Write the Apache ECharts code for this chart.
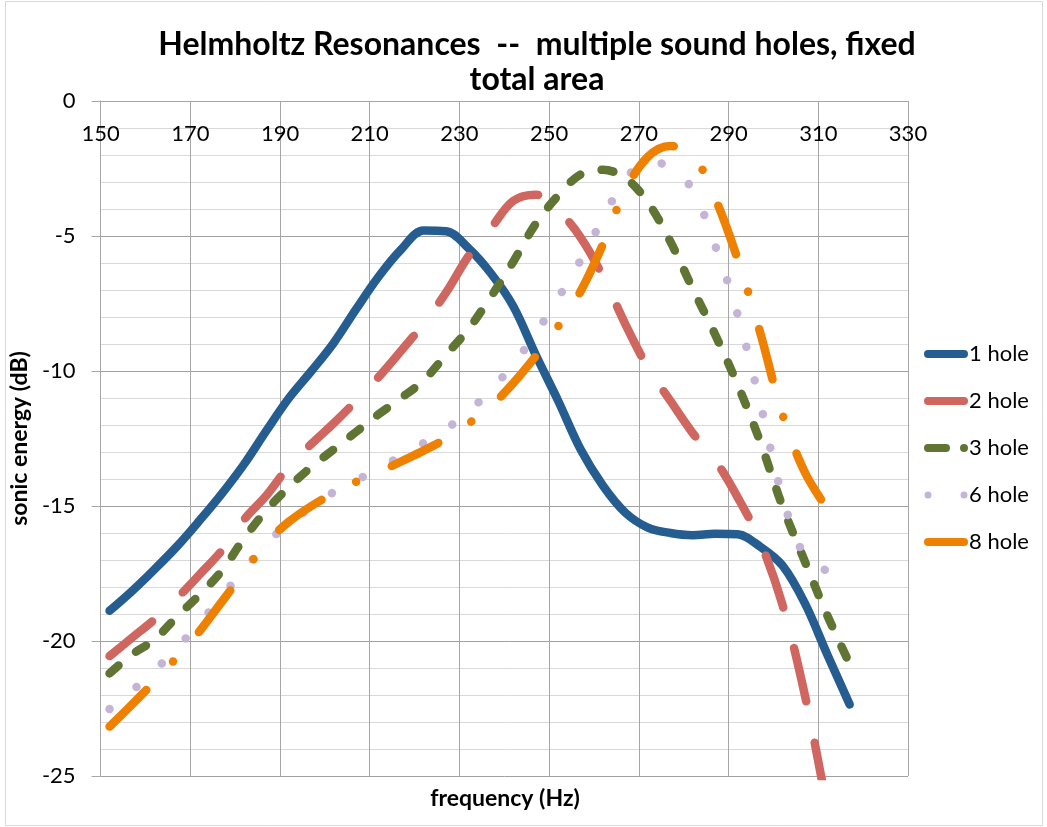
<!DOCTYPE html>
<html>
<head>
<meta charset="utf-8">
<script src="https://cdn.jsdelivr.net/npm/echarts@6/dist/echarts.min.js"></script>
<style>
  html, body { margin: 0; padding: 0; background: #fff; }
  #chart { width: 1047px; height: 827px; }
</style>
</head>
<body>
<div id="chart"></div>
<script>
// frequency (Hz) sample points
const freq = [152, 157, 162, 167, 172, 177, 182, 187, 192, 197, 202, 207, 212, 217, 222, 227, 232, 237,
  242, 247, 252, 257, 262, 267, 272, 277, 282, 287, 292, 297, 302, 307, 312, 317];

// sonic energy (dB) per hole count
const hole1 = [-18.88, -18.15, -17.35, -16.5, -15.55, -14.55, -13.45, -12.2, -11.0, -10.0, -8.95, -7.7,
  -6.5, -5.5, -4.8, -4.82, -5.45, -6.38, -7.6, -9.4, -11.1, -12.9, -14.25, -15.25, -15.8, -16.0,
  -16.08, -16.03, -16.05, -16.5, -17.2, -18.6, -20.5, -22.35];
const hole2 = [-20.56, -19.88, -19.2, -18.42, -17.55, -16.65, -15.5, -14.6, -13.52, -12.7, -11.93, -11.1,
  -10.22, -9.25, -8.25, -7.1, -5.75, -4.72, -3.7, -3.47, -4.05, -5.05, -6.5, -8.27, -9.87, -11.1,
  -12.3, -13.3, -14.67, -16.3, -18.65, -22.0, -26.2, null];
const hole3 = [-21.2, -20.5, -19.95, -19.1, -18.3, -17.4, -16.2, -15.15, -14.3, -13.55, -12.9, -12.25,
  -11.6, -11.0, -10.35, -9.4, -8.45, -7.25, -5.95, -4.55, -3.5, -2.72, -2.55, -2.85, -3.75, -5.2,
  -6.95, -8.65, -10.5, -12.6, -15.0, -17.05, -19.05, -20.85];
const hole6 = [-22.52, -21.85, -21.1, -20.25, -19.35, -18.35, -17.35, -16.4, -15.63, -15.05, -14.48, -14.05,
  -13.61, -13.15, -12.67, -12.15, -11.5, -10.7, -9.75, -8.6, -7.3, -5.9, -4.35, -2.9, -2.25, -2.45,
  -3.3, -5.35, -7.9, -11.15, -14.65, -16.85, -17.4, null];
const hole8 = [-23.17, -22.35, -21.5, -20.6, -19.65, -18.55, -17.45, -16.35, -15.58, -15.0, -14.52, -14.1,
  -13.75, -13.35, -12.95, -12.5, -11.95, -11.3, -10.45, -9.45, -8.35, -7.05, -5.3, -3.3, -2.07, -1.67,
  -2.0, -3.6, -5.85, -8.55, -11.6, -13.75, -15.1, null];

const xTicks = { min: 150, max: 330, step: 20 };
const yTicks = { min: -25, max: 0, step: 5 };

const font = 'Lato, "Open Sans", sans-serif';

// legend icons drawn like the excel swatches
const barIcon = 'path://M4,0 H40 A4,4 0 0 1 40,8 H4 A4,4 0 0 1 4,0 Z';
const dashDotIcon = 'path://M4,0 H22 A4,4 0 0 1 22,8 H4 A4,4 0 0 1 4,0 Z M36,4 A4,4 0 1 0 44,4 A4,4 0 1 0 36,4 Z';
const dotsIcon = 'path://M0.5,4 A3.5,3.5 0 1 0 7.5,4 A3.5,3.5 0 1 0 0.5,4 Z M36.5,4 A3.5,3.5 0 1 0 43.5,4 A3.5,3.5 0 1 0 36.5,4 Z M0,0 Z M44,8 Z';

function pairs(vals) {
  return freq.map((f, i) => [f, vals[i]]);
}

function mkSeries(name, vals, color, type) {
  return {
    name: name,
    type: 'line',
    data: pairs(vals),
    smooth: 0.35,
    symbol: 'none',
    connectNulls: false,
    lineStyle: {
      color: color,
      width: 8.5,
      type: type,
      cap: 'round',
      join: 'round',
    },
    itemStyle: { color: color },
    z: 3,
  };
}

const chart = echarts.init(document.getElementById('chart'));
chart.setOption({
  animation: false,
  textStyle: { fontFamily: font },
  title: [
    {
      text: 'Helmholtz Resonances  --  multiple sound holes, fixed\ntotal area',
      left: 532,
      top: 22,
      textAlign: 'center',
      textStyle: { fontSize: 32, fontWeight: 'bold', color: '#000', lineHeight: 35, fontFamily: font },
    },
    {
      text: 'frequency (Hz)',
      left: 500,
      top: 782,
      textAlign: 'center',
      textStyle: { fontSize: 23, fontWeight: 'bold', color: '#000', fontFamily: font },
    },
  ],
  grid: { left: 96, right: 139, top: 101, bottom: 51 },
  legend: {
    orient: 'vertical',
    left: 919,
    top: 338,
    itemWidth: 44,
    itemHeight: 8,
    itemGap: 25,
    textStyle: { fontSize: 22, color: '#000', fontFamily: font, padding: [0, 0, 0, -4] },
    data: [
      { name: '1 hole', icon: barIcon },
      { name: '2 hole', icon: barIcon },
      { name: '3 hole', icon: dashDotIcon },
      { name: '6 hole', icon: dotsIcon },
      { name: '8 hole', icon: barIcon },
    ],
  },
  xAxis: {
    type: 'value',
    position: 'top',
    min: xTicks.min,
    max: xTicks.max,
    interval: xTicks.step,
    axisLine: { show: true, lineStyle: { color: '#a6a6a6', width: 1 } },
    axisTick: { show: false },
    axisLabel: { inside: true, margin: 22, fontSize: 22, color: '#000', fontFamily: font },
    splitLine: { show: true, lineStyle: { color: '#a6a6a6', width: 1 } },
  },
  yAxis: {
    type: 'value',
    min: yTicks.min,
    max: yTicks.max,
    interval: yTicks.step,
    name: 'sonic energy (dB)',
    nameLocation: 'middle',
    nameGap: 50,
    nameTextStyle: { fontSize: 23, fontWeight: 'bold', color: '#000', fontFamily: font },
    axisLine: { show: true, lineStyle: { color: '#a6a6a6', width: 1 } },
    axisTick: { show: true, length: 9, lineStyle: { color: '#a6a6a6' } },
    axisLabel: { margin: 25, fontSize: 22, color: '#000', fontFamily: font },
    splitLine: { show: true, lineStyle: { color: '#a0a0a0', width: 1 } },
    minorTick: { show: false, splitNumber: 5 },
    minorSplitLine: { show: true, lineStyle: { color: '#d9d9d9', width: 1 } },
  },
  graphic: [
    {
      type: 'rect',
      shape: { x: 5.5, y: 1.5, width: 1037, height: 824 },
      style: { fill: 'none', stroke: '#d9d9d9', lineWidth: 1 },
      silent: true,
      z: -10,
    },
  ],
  series: [
    mkSeries('1 hole', hole1, '#255D90', 'solid'),
    mkSeries('2 hole', hole2, '#CF6760', [55, 42]),
    mkSeries('3 hole', hole3, '#607434', [12, 22]),
    mkSeries('6 hole', hole6, '#C4B5D7', [0.1, 34.5]),
    mkSeries('8 hole', hole8, '#EF8102', [52, 39, 0.1, 39]),
  ],
});
</script>
</body>
</html>
